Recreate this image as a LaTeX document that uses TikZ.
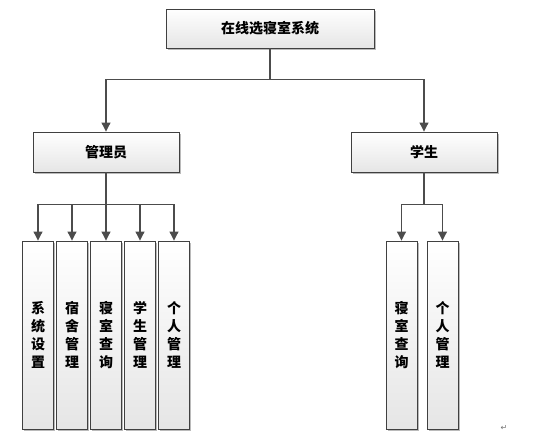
\documentclass[tikz,border=0pt]{standalone}
\usepackage{fontspec}
\newfontfamily\cjk{Noto Sans CJK SC}
\newfontfamily\symfont{DejaVu Sans}
\usepackage{tikz}
\usetikzlibrary{arrows.meta,shadows}

\tikzset{
  box/.style = {draw = black!75, line width = 0.9pt, top color = white, bottom color = black!10,
                drop shadow = {shadow xshift = 1.6pt, shadow yshift = -1.6pt, fill = black!45, opacity = 0.6},
                inner sep = 0pt, font = \cjk\bfseries\fontsize{14}{18}\selectfont},
  wbox/.style = {box, minimum height = 40pt},
  cbox/.style = {box, minimum width = 31pt, minimum height = 188pt, align = center},
  conn/.style = {draw = black!70, line width = 1.1pt, -{Triangle[length = 9pt, width = 9pt]}}
}

\begin{document}
\begin{tikzpicture}[x = 1pt, y = -1pt]
            \useasboundingbox (0,0) rectangle (536,443);
            % 系统
            \node[wbox, minimum width = 208pt, minimum height = 39pt](sys)at(270,28.5){在线选寝室系统};
            % 管理员 / 学生
            \node[wbox, minimum width = 146pt](adm)at(106,152){管理员};
            \node[wbox, minimum width = 146pt](stu)at(424,152){学生};
            % 管理员的功能
            \node[cbox](a1)at(38,335){系\\统\\设\\置};
            \node[cbox](a2)at(72,335){宿\\舍\\管\\理};
            \node[cbox](a3)at(106,335){寝\\室\\查\\询};
            \node[cbox](a4)at(140,335){学\\生\\管\\理};
            \node[cbox](a5)at(174,335){个\\人\\管\\理};
            % 学生的功能
            \node[cbox](s1)at(401.5,335){寝\\室\\查\\询};
            \node[cbox](s2)at(442.5,335){个\\人\\管\\理};
            % 连线
            \path[conn](sys.south)--++(0,31)-|(adm.north);
            \path[conn](sys.south)--++(0,31)-|(stu.north);
            \foreach \c in {a1,a2,a3,a4,a5}
              \path[conn](adm.south)--++(0,32)-|(\c.north);
            \foreach \c in {s1,s2}
              \path[conn](stu.south)--++(0,32)-|(\c.north);
            % 段落标记
            \node[text = black!55, font = \symfont\fontsize{8}{8}\selectfont](ret)at(504,428){↵};
        \end{tikzpicture}
\end{document}
